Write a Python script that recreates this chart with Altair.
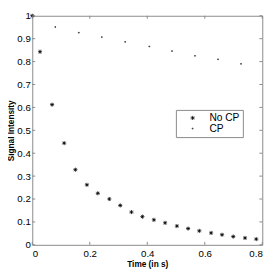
import altair as alt
import pandas as pd

# No CP series
nocp_t = [0, 0.027, 0.069, 0.111, 0.150, 0.190, 0.228, 0.268, 0.306, 0.345, 0.383,
          0.423, 0.462, 0.503, 0.542, 0.581, 0.622, 0.660, 0.699, 0.740, 0.779]
nocp_v = [1.0, 0.843, 0.612, 0.444, 0.328, 0.262, 0.225, 0.200, 0.172, 0.143, 0.123,
          0.109, 0.096, 0.082, 0.071, 0.061, 0.052, 0.044, 0.036, 0.030, 0.025]
# CP series
cp_t = [0, 0.080, 0.162, 0.242, 0.323, 0.407, 0.486, 0.566, 0.646, 0.726]
cp_v = [1.0, 0.951, 0.926, 0.907, 0.886, 0.866, 0.846, 0.825, 0.810, 0.790]

x_ticks = [0, 0.2, 0.4, 0.6, 0.8]
y_ticks = [0, 0.1, 0.2, 0.3, 0.4, 0.5, 0.6, 0.7, 0.8, 0.9, 1.0]

series_names = ["No CP", "CP"]

df = pd.concat([
    pd.DataFrame({"t": nocp_t, "v": nocp_v, "s": "No CP"}),
    pd.DataFrame({"t": cp_t, "v": cp_v, "s": "CP"}),
])
xt = pd.DataFrame({"t": x_ticks})
yt = pd.DataFrame({"v": y_ticks})

W, H = 237, 236
FRAME = "#888888"
ASTERISK = "M-1,0L1,0M0,-1L0,1M-0.7,-0.7L0.7,0.7M-0.7,0.7L0.7,-0.7"

xscale = alt.Scale(domain=[0, 0.8], nice=False, zero=False)
yscale = alt.Scale(domain=[0, 1], nice=False, zero=False)

xaxis = alt.Axis(values=x_ticks, format="~g", tickSize=0, domain=False, grid=False,
                 labelPadding=4, titlePadding=1)
yaxis = alt.Axis(values=y_ticks, format="~g", tickSize=0, domain=False, grid=False,
                 labelPadding=2, titlePadding=1)
XT = "Time (in s)"
YT = "Signal Intensity"

legend = alt.Legend(title=None, orient="none", legendX=148, legendY=97,
                    labelExpr="datum.label + '    '")

points = alt.Chart(df).mark_point(filled=False, color="black", strokeWidth=0.8, opacity=1).encode(
    x=alt.X("t:Q", scale=xscale, title=XT, axis=xaxis),
    y=alt.Y("v:Q", scale=yscale, title=YT, axis=yaxis),
    shape=alt.Shape("s:N", scale=alt.Scale(domain=series_names, range=[ASTERISK, "circle"]),
                    legend=legend),
    size=alt.Size("s:N", scale=alt.Scale(domain=series_names, range=[18, 1]),
                  legend=legend),
)

tick_bottom = alt.Chart(xt).mark_rule(color=FRAME).encode(
    x=alt.X("t:Q", scale=xscale, title=XT, axis=xaxis), y=alt.value(H), y2=alt.value(H - 3))
tick_top = alt.Chart(xt).mark_rule(color=FRAME).encode(
    x=alt.X("t:Q", scale=xscale, title=XT, axis=xaxis), y=alt.value(0), y2=alt.value(3))
tick_left = alt.Chart(yt).mark_rule(color=FRAME).encode(
    y=alt.Y("v:Q", scale=yscale, title=YT, axis=yaxis), x=alt.value(0), x2=alt.value(3))
tick_right = alt.Chart(yt).mark_rule(color=FRAME).encode(
    y=alt.Y("v:Q", scale=yscale, title=YT, axis=yaxis), x=alt.value(W), x2=alt.value(W - 3))

chart = alt.layer(points, tick_bottom, tick_top, tick_left, tick_right).properties(
    width=W, height=H,
    autosize=alt.AutoSizeParams(type="none"),
    padding={"left": 25, "top": 4, "right": 10, "bottom": 25},
).configure_view(
    stroke=FRAME, strokeWidth=1
).configure_axis(
    labelFont="Liberation Sans", labelFontSize=10, labelColor="black",
    titleFont="Liberation Sans", titleFontSize=8.5, titleFontWeight="bold", titleColor="black",
).configure_legend(
    strokeColor=FRAME, fillColor="white", padding=3, rowPadding=0,
    labelFont="Liberation Sans", labelFontSize=10.5, labelColor="black",
    symbolStrokeColor="black", symbolStrokeWidth=0.8, symbolOffset=9, labelOffset=12,
    cornerRadius=0,
)

chart.save("out.html", embed_options={"renderer": "svg", "actions": False})
